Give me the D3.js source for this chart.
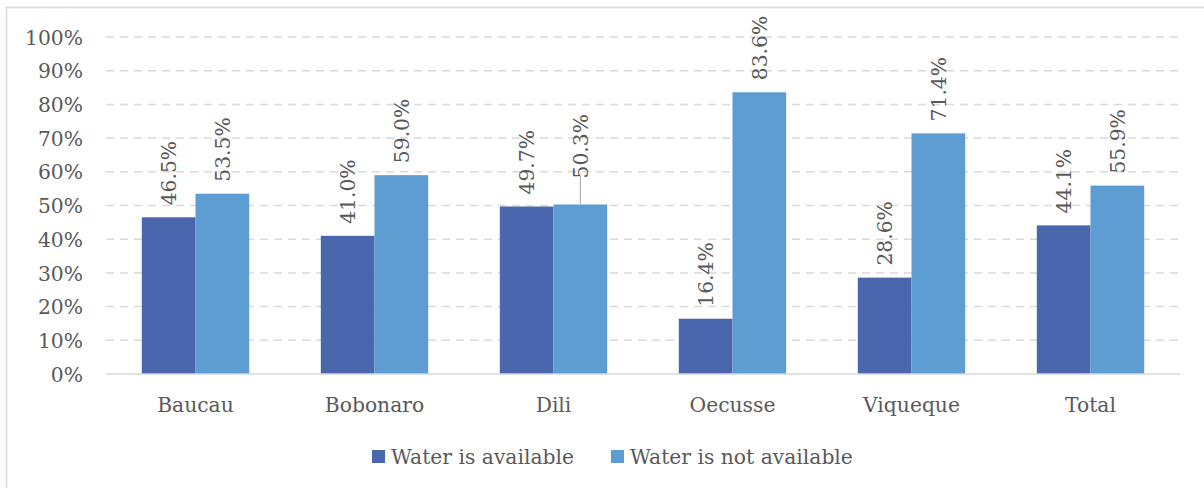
<!DOCTYPE html>
<html><head><meta charset="utf-8">
<script src="https://cdn.jsdelivr.net/npm/d3@7"></script>
<style>body{margin:0;background:#fff}svg{display:block}</style>
</head><body><svg id="c" width="1204" height="488"></svg>
<script>
const categories = ["Baucau","Bobonaro","Dili","Oecusse","Viqueque","Total"];
const seriesNames = ["Water is available","Water is not available"];
const available = [46.5,41.0,49.7,16.4,28.6,44.1];
const notAvailable = [53.5,59.0,50.3,83.6,71.4,55.9];
const yTicks = [0,10,20,30,40,50,60,70,80,90,100];
const colors = ["#4a66ac","#5e9dd2"];
const FONT = "'DejaVu Serif', serif";
const TXT = "#595959";
const FS = 20.3;

const svg = d3.select("#c");
svg.append("rect").attr("x",6.5).attr("y",7.5).attr("width",1300).attr("height",600)
  .attr("fill","#fff").attr("stroke","#d9d9d9").attr("stroke-width",1.5);

const m = {left:106, right:1180, top:37, bottom:374};
const x = d3.scaleBand().domain(categories).range([m.left,m.right]).paddingInner(0.4).paddingOuter(0.2);
const y = d3.scaleLinear().domain([0,100]).range([m.bottom,m.top]);
const x1 = d3.scaleBand().domain([0,1]).range([0,x.bandwidth()]);

svg.append("g").selectAll("line").data(yTicks.filter(d=>d>0)).join("line")
  .attr("x1",m.left).attr("x2",m.right).attr("y1",d=>y(d)).attr("y2",d=>y(d))
  .attr("stroke","#d9d9d9").attr("stroke-width",1.5).attr("stroke-dasharray","8,6");

const yAxis = d3.axisLeft(y).tickValues(yTicks).tickFormat(d=>d+"%").tickSize(0).tickPadding(0);
const ga = svg.append("g").attr("transform",`translate(${m.left-23},0)`).call(yAxis);
ga.select(".domain").remove();
ga.selectAll("text").attr("font-family",FONT).attr("font-size",FS).attr("fill",TXT).attr("dy","0.35em");

const rows = categories.map((c,i)=>({c, v:[available[i],notAvailable[i]]}));
const bars = [];
rows.forEach(r=>r.v.forEach((v,s)=>bars.push({c:r.c,s,v})));

svg.append("g").selectAll("rect").data(bars).join("rect")
  .attr("x",d=>x(d.c)+x1(d.s)).attr("width",x1.bandwidth())
  .attr("y",d=>y(d.v)).attr("height",d=>y(0)-y(d.v))
  .attr("fill",d=>colors[d.s]);

svg.append("line").attr("x1",m.left).attr("x2",m.right).attr("y1",y(0)).attr("y2",y(0))
  .attr("stroke","#d9d9d9").attr("stroke-width",1.5);

const lift = d => (d.c==="Dili" && d.s===1) ? 14 : 0;
const lg = svg.append("g");
bars.forEach(d=>{
  const cx = x(d.c)+x1(d.s)+x1.bandwidth()/2;
  const yb = y(d.v) - 12 - lift(d);
  if(lift(d)>0){
    lg.append("line").attr("x1",cx).attr("x2",cx).attr("y1",y(d.v)).attr("y2",yb-2)
      .attr("stroke","#a6a6a6").attr("stroke-width",1);
  }
  lg.append("text").attr("transform",`translate(${cx+7.5},${yb}) rotate(-90)`)
    .attr("font-family",FONT).attr("font-size",FS).attr("fill",TXT)
    .text(d.v.toFixed(1)+"%");
});

svg.append("g").selectAll("text").data(categories).join("text")
  .attr("x",d=>x(d)+x.bandwidth()/2).attr("y",412).attr("text-anchor","middle")
  .attr("font-family",FONT).attr("font-size",FS).attr("fill",TXT).text(d=>d);

const legX = [372,611];
const lgd = svg.append("g");
seriesNames.forEach((n,i)=>{
  lgd.append("rect").attr("x",legX[i]).attr("y",450).attr("width",13).attr("height",13).attr("fill",colors[i]);
  lgd.append("text").attr("x",legX[i]+19).attr("y",464).attr("font-family",FONT).attr("font-size",FS)
    .attr("fill",TXT).text(n);
});
</script></body></html>
